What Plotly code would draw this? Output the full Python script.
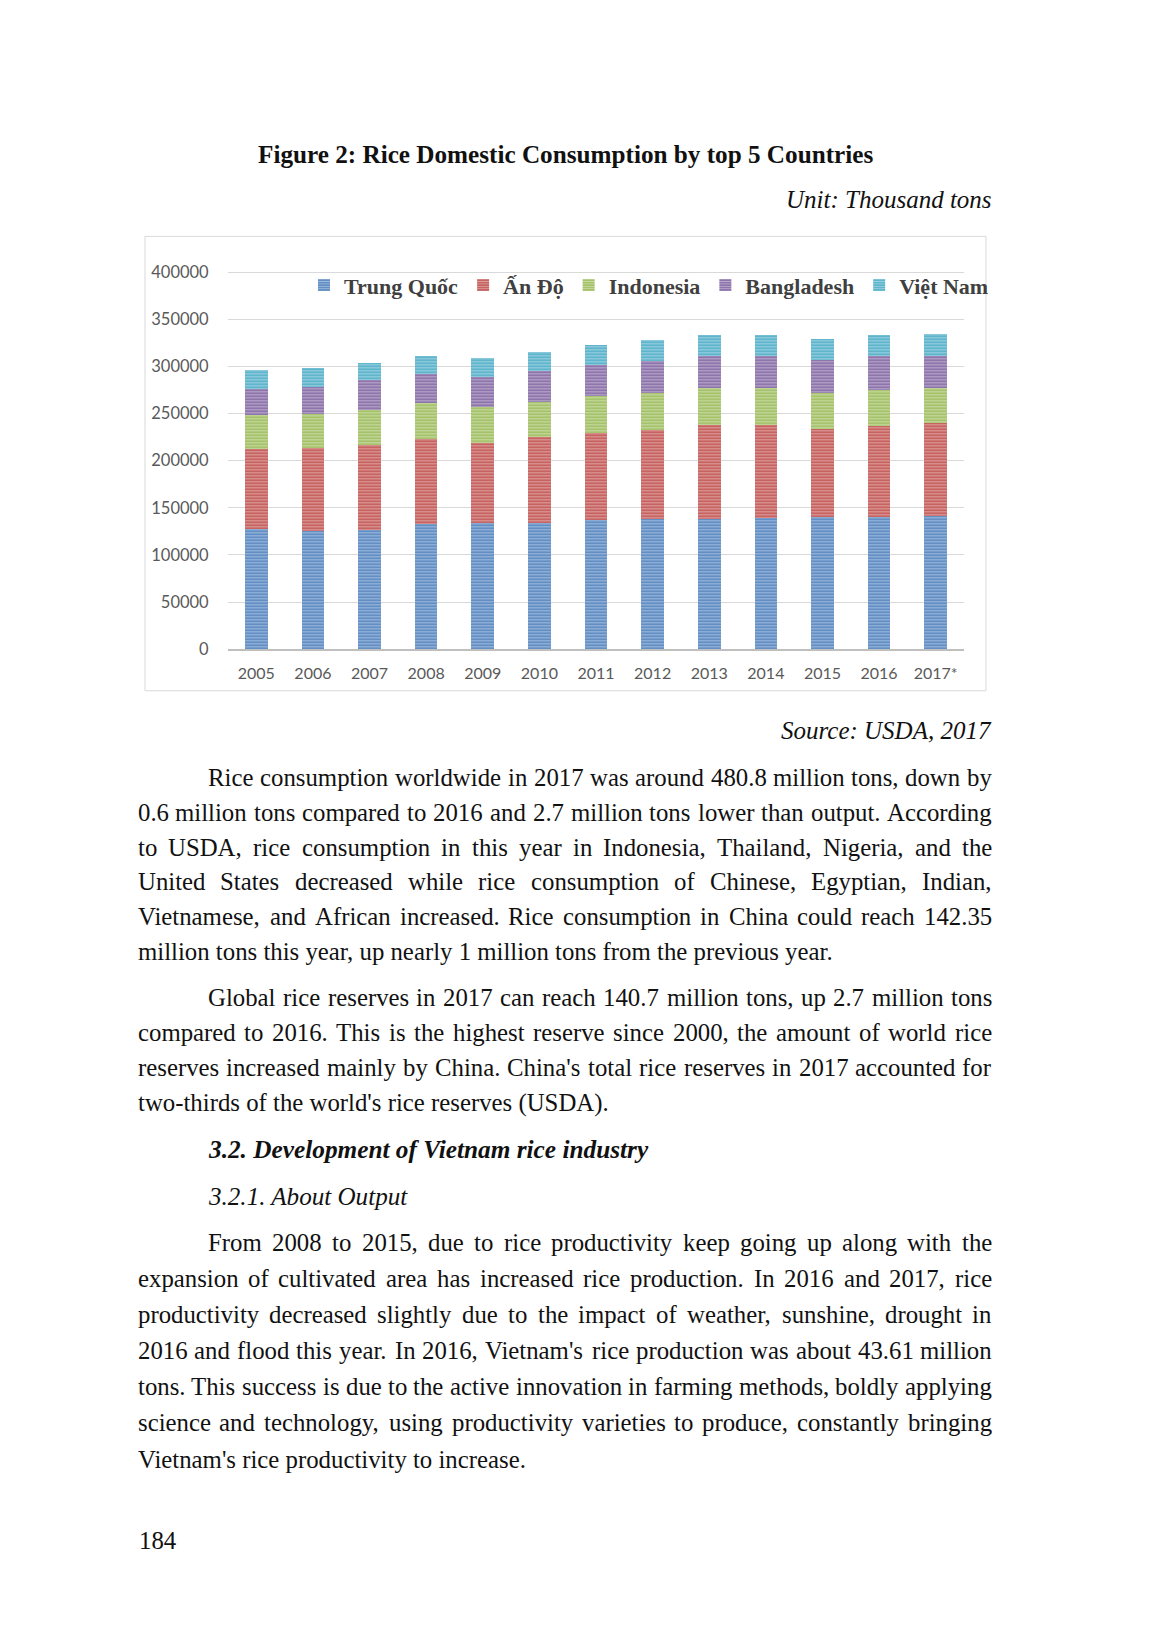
import plotly.graph_objects as go

W, H = 1158, 1637
OFF = 8  # default body margin of the html page
FW, FH = W - 2 * OFF, H - 2 * OFF
SY, DY = 0.992, 4.4  # vertical correction measured on the photographed page

# --- chart data (thousand tons) ---
years = ['2005', '2006', '2007', '2008', '2009', '2010', '2011', '2012', '2013', '2014', '2015', '2016', '2017*']
trung_quoc = [127700, 125600, 126000, 132700, 134100, 134100, 137000, 138300, 138500, 139100, 139800, 140500, 141200]
an_do = [84200, 87600, 90700, 90400, 84800, 91100, 92400, 94000, 99100, 98500, 93600, 96400, 98800]
indonesia = [36300, 36100, 36500, 38100, 38100, 37100, 38900, 38900, 38900, 38900, 38400, 38500, 37500]
bangladesh = [27800, 28900, 31800, 30400, 31800, 32800, 32900, 34500, 34500, 34500, 35400, 35300, 33500]
viet_nam = [19900, 20100, 19000, 19100, 19800, 19800, 21100, 21900, 22700, 22700, 22200, 22300, 23700]

series = [
    ('Trung Quốc', trung_quoc, '#4F81BD'),
    ('Ấn Độ', an_do, '#C0504D'),
    ('Indonesia', indonesia, '#9BBB59'),
    ('Bangladesh', bangladesh, '#8064A2'),
    ('Việt Nam', viet_nam, '#4BACC6'),
]

# --- page text ---
para1 = [
    'Rice consumption worldwide in 2017 was around 480.8 million tons, down by',
    '0.6 million tons compared to 2016 and 2.7 million tons lower than output. According',
    'to USDA, rice consumption in this year in Indonesia, Thailand, Nigeria, and the',
    'United States decreased while rice consumption of Chinese, Egyptian, Indian,',
    'Vietnamese, and African increased. Rice consumption in China could reach 142.35',
    'million tons this year, up nearly 1 million tons from the previous year.',
]
para2 = [
    'Global rice reserves in 2017 can reach 140.7 million tons, up 2.7 million tons',
    'compared to 2016. This is the highest reserve since 2000, the amount of world rice',
    "reserves increased mainly by China. China's total rice reserves in 2017 accounted for",
    "two-thirds of the world's rice reserves (USDA).",
]
para3 = [
    'From 2008 to 2015, due to rice productivity keep going up along with the',
    'expansion of cultivated area has increased rice production. In 2016 and 2017, rice',
    'productivity decreased slightly due to the impact of weather, sunshine, drought in',
    "2016 and flood this year. In 2016, Vietnam's rice production was about 43.61 million",
    'tons. This success is due to the active innovation in farming methods, boldly applying',
    'science and technology, using productivity varieties to produce, constantly bringing',
    "Vietnam's rice productivity to increase.",
]
para1_y = [778, 812.7, 847.5, 882.3, 917.2, 952]
para2_y = [998, 1033.3, 1068.6, 1104]
para3_y = [1243, 1279.2, 1315.4, 1351.6, 1387.8, 1424, 1460.2]

SERIF = 'Liberation Serif, Times New Roman, DejaVu Serif, serif'
SANS = 'Lato, Carlito, Liberation Sans, sans-serif'
FS = 24.8
LEFT, INDENT, RIGHT = 137.5, 208, 992

# Times New Roman advance widths (1/1000 em), metric-compatible with Liberation Serif
TNR = {' ': 250, "'": 180, '(': 333, ')': 333, ',': 250, '-': 333, '.': 250, ':': 278, '*': 500,
       'A': 722, 'B': 667, 'C': 667, 'D': 722, 'E': 611, 'F': 556, 'G': 722, 'H': 722, 'I': 333,
       'J': 389, 'K': 722, 'L': 611, 'M': 889, 'N': 722, 'O': 722, 'P': 556, 'Q': 722, 'R': 667,
       'S': 556, 'T': 611, 'U': 722, 'V': 722, 'W': 944, 'X': 722, 'Y': 722, 'Z': 611,
       'a': 444, 'b': 500, 'c': 444, 'd': 500, 'e': 444, 'f': 333, 'g': 500, 'h': 500, 'i': 278,
       'j': 278, 'k': 500, 'l': 278, 'm': 778, 'n': 500, 'o': 500, 'p': 500, 'q': 500, 'r': 333,
       's': 389, 't': 278, 'u': 500, 'v': 500, 'w': 722, 'x': 500, 'y': 500, 'z': 444}


def px(x):
    return (x - OFF) / FW


def py(y):
    y = (y - DY) / SY
    return 1 - (y - OFF) / FH


def tw(s, size=FS):
    return sum(TNR.get(c, 500) for c in s) * size / 1000


def note(fig, text, x, y, anchor='left', **font):
    f = dict(family=SERIF, size=FS, color='#111111')
    f.update(font)
    fig.add_annotation(text=text, x=px(x), y=py(y), xref='paper', yref='paper',
                       xanchor=anchor, yanchor='middle', showarrow=False,
                       borderpad=0, borderwidth=0, font=f)


def paragraph(fig, lines, ys):
    for n, (line, y) in enumerate(zip(lines, ys)):
        x0 = INDENT if n == 0 else LEFT
        if n == len(lines) - 1:
            note(fig, line, x0, y)
            continue
        words = line.split(' ')
        gap = (RIGHT - x0 - sum(tw(w) for w in words)) / (len(words) - 1)
        x = x0
        for i, w in enumerate(words):
            if i == len(words) - 1:
                note(fig, w, RIGHT, y, anchor='right')
            else:
                note(fig, w, x, y)
            x += tw(w) + gap


fig = go.Figure()
for name, vals, color in series:
    fig.add_trace(go.Bar(
        name=name, x=years, y=vals,
        marker=dict(color=color, line=dict(width=0),
                    pattern=dict(shape='-', size=3, solidity=0.5, fgcolor='white', fgopacity=0.45)),
    ))

y_bottom, y_400k = 649.3, 271.7
ymax = 405000
top_px = y_bottom - (y_bottom - y_400k) * ymax / 400000

fig.update_layout(
    width=FW, height=FH, margin=dict(l=0, r=0, t=0, b=0),
    paper_bgcolor='white', plot_bgcolor='white',
    barmode='stack', bargap=0.6,
    showlegend=True,
    legend=dict(orientation='h', x=px(304), xanchor='left', y=py(285), yanchor='middle',
                traceorder='normal', bgcolor='rgba(0,0,0,0)',
                font=dict(family=SERIF, size=22, color='#404040', weight='bold')),
    xaxis=dict(domain=[px(228), px(964)], type='category', showgrid=False,
               showline=True, linecolor='#bfbfbf', linewidth=2,
               ticks='outside', ticklen=9, tickcolor='rgba(0,0,0,0)',
               tickfont=dict(family=SANS, size=16, color='#595959')),
    yaxis=dict(domain=[py(y_bottom), py(top_px)], range=[0, ymax], dtick=50000,
               tickformat='d', showgrid=True, gridcolor='#d9d9d9', gridwidth=1, zeroline=False,
               ticks='outside', ticklen=15, tickcolor='rgba(0,0,0,0)',
               tickfont=dict(family=SANS, size=16.5, color='#595959')),
)

# chart frame
fig.add_shape(type='rect', xref='paper', yref='paper', x0=px(145), x1=px(986),
              y0=py(691), y1=py(236), line=dict(color='#d9d9d9', width=1),
              fillcolor='rgba(0,0,0,0)', layer='below')

# captions
note(fig, 'Figure 2: Rice Domestic Consumption by top 5 Countries', 565, 154.5, anchor='center',
     weight='bold', size=25.2)
note(fig, 'Unit: Thousand tons', RIGHT, 199.5, anchor='right', style='italic', size=25)
note(fig, 'Source: USDA, 2017', RIGHT, 731, anchor='right', style='italic', size=25)

paragraph(fig, para1, para1_y)
paragraph(fig, para2, para2_y)
note(fig, '3.2. Development of Vietnam rice industry', INDENT, 1150, weight='bold', style='italic', size=25.3)
note(fig, '3.2.1. About Output', INDENT, 1197, style='italic', size=25.1)
paragraph(fig, para3, para3_y)
note(fig, '184', 139, 1542)

fig.write_html('out.html')
